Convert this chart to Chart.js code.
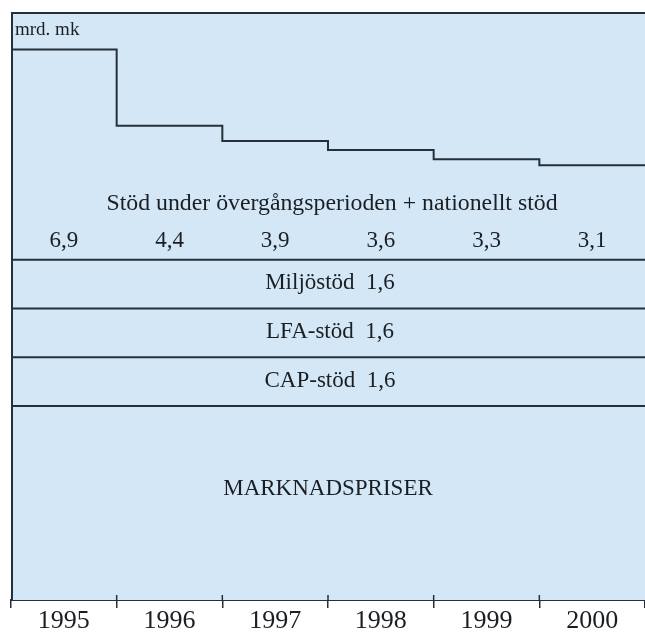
<!DOCTYPE html>
<html>
<head>
    <title>Stöd under övergångsperioden</title>
    <script src="https://cdn.jsdelivr.net/npm/chart.js"></script>
    <style>
        body {
            margin: 0;
            background: #ffffff;
        }
    </style>
</head>
<body>
    <canvas id="myChart" width="645" height="638"></canvas>

    <script>
        // Years along the bottom
        const years = ['1995', '1996', '1997', '1998', '1999', '2000'];

        // Bands, bottom to top (mrd. mk)
        const marknadspriser = [6.4, 6.4, 6.4, 6.4, 6.4, 6.4]; // not labelled, read from the band height
        const capStod = [1.6, 1.6, 1.6, 1.6, 1.6, 1.6];
        const lfaStod = [1.6, 1.6, 1.6, 1.6, 1.6, 1.6];
        const miljoStod = [1.6, 1.6, 1.6, 1.6, 1.6, 1.6];
        const overgangStod = [6.9, 4.4, 3.9, 3.6, 3.3, 3.1];

        const unitLabel = 'mrd. mk';
        const overgangTitle = 'Stöd under övergångsperioden + nationellt stöd';
        const marknadTitle = 'MARKNADSPRISER';
        const bandNames = ['CAP-stöd', 'LFA-stöd', 'Miljöstöd'];

        const fillColor = '#d3e7f7';
        const lineColor = '#25303a';
        const textColor = '#1b1f23';
        const serif = "'Liberation Serif', 'DejaVu Serif', serif";

        const fmt = v => String(v).replace('.', ',');

        function band(data) {
            return {
                data: data,
                backgroundColor: fillColor,
                borderWidth: 0,
                categoryPercentage: 1,
                barPercentage: 1,
                stack: 'bands'
            };
        }

        // frame, band tops (one path per band, so no seams), stub ticks and texts
        const diagramPlugin = {
            id: 'diagram',
            beforeDraw(chart) {
                const { ctx, chartArea: a } = chart;
                ctx.save();
                ctx.fillStyle = fillColor;
                ctx.fillRect(a.left, a.top, a.right - a.left, a.bottom - a.top);
                ctx.restore();
            },
            afterDatasetsDraw(chart) {
                const { ctx, chartArea: a, scales: { x, y } } = chart;

                ctx.save();
                ctx.strokeStyle = lineColor;
                ctx.lineWidth = 2;
                ctx.lineJoin = 'miter';
                ctx.beginPath();
                // top and left frame
                ctx.moveTo(a.left + 1, a.bottom);
                ctx.lineTo(a.left + 1, a.top + 1);
                ctx.lineTo(a.right, a.top + 1);
                ctx.stroke();

                // top edge of every band; the last one is the step line
                chart.data.datasets.forEach((ds, di) => {
                    const bars = chart.getDatasetMeta(di).data;
                    ctx.beginPath();
                    bars.forEach((b, i) => {
                        const l = b.x - b.width / 2, r = b.x + b.width / 2;
                        if (i === 0) ctx.moveTo(l, b.y + 1);
                        else ctx.lineTo(l, b.y + 1);
                        ctx.lineTo(r, b.y + 1);
                    });
                    ctx.stroke();
                });

                // small tick stubs above the axis
                const steps = chart.getDatasetMeta(0).data;
                ctx.lineWidth = 1.5;
                ctx.beginPath();
                for (let i = 1; i < steps.length; i++) {
                    const bx = steps[i].x - steps[i].width / 2;
                    ctx.moveTo(bx, a.bottom - 5);
                    ctx.lineTo(bx, a.bottom);
                }
                ctx.stroke();

                ctx.fillStyle = textColor;
                ctx.textBaseline = 'middle';

                ctx.font = '19px ' + serif;
                ctx.textAlign = 'left';
                ctx.fillText(unitLabel, a.left + 4, a.top + 18);

                const bandTop = marknadspriser[0] + capStod[0] + lfaStod[0] + miljoStod[0];
                const cx = (a.left + a.right) / 2;

                ctx.textAlign = 'center';
                ctx.font = '23.8px ' + serif;
                ctx.fillText(overgangTitle, cx + 4, y.getPixelForValue(bandTop + 1.8));
                ctx.font = '23px ' + serif;
                overgangStod.forEach((v, i) => {
                    ctx.fillText(fmt(v), x.getPixelForValue(i), y.getPixelForValue(bandTop + 0.6));
                });

                const bands = [capStod, lfaStod, miljoStod];
                let base = marknadspriser[0];
                bands.forEach((b, i) => {
                    ctx.fillText(bandNames[i] + '  ' + fmt(b[0]), cx + 2, y.getPixelForValue(base + b[0] / 2));
                    base += b[0];
                });

                ctx.fillText(marknadTitle, cx, y.getPixelForValue(marknadspriser[0] * 0.57));
                ctx.restore();
            }
        };

        const config = {
            type: 'bar',
            data: {
                labels: years,
                datasets: [
                    band(marknadspriser),
                    band(capStod),
                    band(lfaStod),
                    band(miljoStod),
                    band(overgangStod)
                ]
            },
            options: {
                responsive: false,
                animation: false,
                layout: {
                    padding: { left: 11, top: 12, right: 0, bottom: 4 }
                },
                plugins: {
                    legend: { display: false },
                    tooltip: { enabled: false }
                },
                scales: {
                    x: {
                        stacked: true,
                        offset: true,
                        border: { color: lineColor, width: 2 },
                        grid: {
                            offset: true,
                            drawOnChartArea: false,
                            tickLength: 8,
                            color: lineColor,
                            lineWidth: 1.5
                        },
                        ticks: {
                            color: textColor,
                            padding: 0,
                            maxRotation: 0,
                            font: { family: serif, size: 26, lineHeight: 1 }
                        }
                    },
                    y: {
                        display: false,
                        stacked: true,
                        min: 0,
                        max: 19.3
                    }
                }
            },
            plugins: [diagramPlugin]
        };

        const ctx = document.getElementById('myChart').getContext('2d');
        const myChart = new Chart(ctx, config);
    </script>
</body>
</html>
